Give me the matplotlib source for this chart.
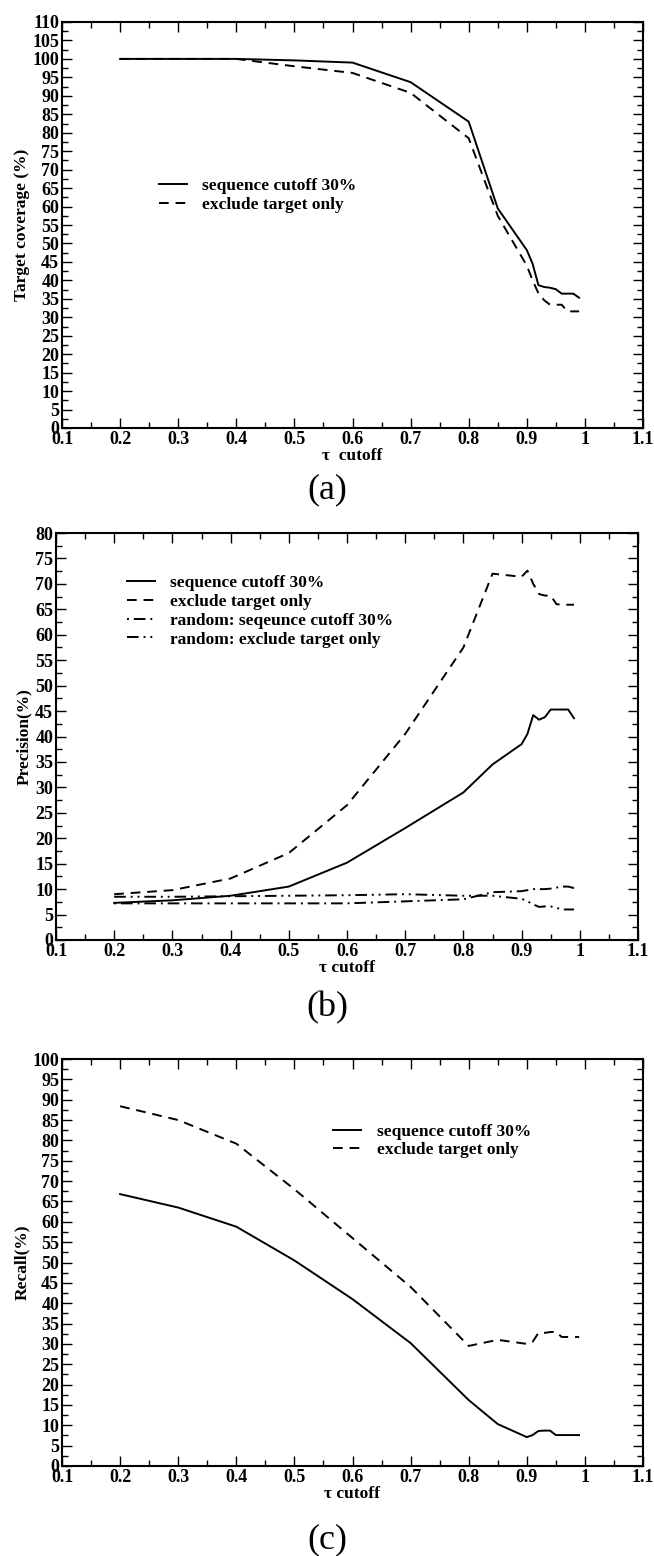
import matplotlib.pyplot as plt
from matplotlib.ticker import MultipleLocator, FuncFormatter

plt.rcParams['font.family'] = ['Liberation Serif', 'DejaVu Serif']

# tau cutoff values used in all three panels
tau = [0.2, 0.3, 0.4, 0.5, 0.6, 0.7, 0.8, 0.85, 0.9, 0.91, 0.92, 0.93, 0.94,
       0.95, 0.96, 0.97, 0.98, 0.99]

# (a) target coverage (%)
cov_seq30 = [100, 100, 100, 99.6, 99.0, 93.7, 83.0, 59.5, 48.2, 44.5, 38.7,
             38.2, 38.0, 37.6, 36.4, 36.4, 36.4, 35.3]
cov_excl = [100, 100, 100, 98.0, 96.2, 90.8, 78.5, 57.5, 44.0, 40.0, 36.5,
            34.6, 33.4, 33.4, 33.4, 31.6, 31.6, 31.6]

# (b) precision (%)
prec_seq30 = [7.3, 7.8, 8.7, 10.5, 15.2, 22.0, 29.0, 34.5, 38.5, 40.5, 44.2,
              43.3, 43.8, 45.3, 45.3, 45.3, 45.3, 43.6]
prec_excl = [9.0, 9.8, 12.1, 17.1, 26.5, 40.5, 57.5, 72.0, 71.4, 72.6, 70.0,
             68.0, 67.7, 67.7, 66.0, 65.9, 65.9, 65.9]
prec_rand_seq30 = [7.2, 7.2, 7.2, 7.2, 7.2, 7.6, 8.0, 9.4, 9.6, 9.8, 10.0,
                   10.0, 10.0, 10.1, 10.3, 10.5, 10.5, 10.2]
prec_rand_excl = [8.5, 8.5, 8.6, 8.7, 8.8, 9.0, 8.7, 8.7, 8.1, 7.6, 7.0,
                  6.5, 6.6, 6.6, 6.3, 6.0, 6.0, 6.0]

# (c) recall (%)
rec_seq30 = [66.8, 63.5, 58.8, 50.5, 41.0, 30.2, 16.2, 10.3, 7.1, 7.6, 8.6,
             8.7, 8.7, 7.6, 7.6, 7.6, 7.6, 7.6]
rec_excl = [88.4, 85.0, 79.2, 68.0, 56.0, 44.0, 29.5, 31.0, 30.0, 30.5, 32.7,
            32.7, 32.9, 33.0, 31.7, 31.7, 31.7, 31.7]

W, H = 654, 1556
fig = plt.figure(figsize=(W / 100, H / 100), dpi=100)

def axes_px(left, right, top, bottom):
    return fig.add_axes([left / W, 1 - bottom / H, (right - left) / W, (bottom - top) / H])

def style_axes(ax, ymax):
    ax.set_xlim(0.1, 1.1)
    ax.set_ylim(0, ymax)
    ax.xaxis.set_major_locator(MultipleLocator(0.1))
    ax.xaxis.set_minor_locator(MultipleLocator(0.05))
    ax.yaxis.set_major_locator(MultipleLocator(5))
    ax.yaxis.set_minor_locator(MultipleLocator(2.5))
    ax.xaxis.set_major_formatter(FuncFormatter(lambda v, p: '%g' % round(v, 2)))
    ax.yaxis.set_major_formatter(FuncFormatter(lambda v, p: '%d' % round(v)))
    ax.tick_params(which='both', direction='in', top=True, right=True, width=1.0)
    ax.tick_params(which='major', length=7, labelsize=13, pad=2)
    ax.tick_params(which='minor', length=4)
    for lab in ax.get_xticklabels() + ax.get_yticklabels():
        lab.set_fontweight('bold')
    for sp in ax.spines.values():
        sp.set_linewidth(1.5)

lw = 1.4
dash = (0, (5, 3.5))
dot_dash = (0, (1, 2.5, 6, 2.5))
dot_dash_dot = (0, (6, 2.5, 1, 2.5, 1, 2.5))
leg_prop = {'size': 12.5, 'weight': 'bold'}

# panel (a)
ax1 = axes_px(62, 643, 22, 428)
ax1.plot(tau, cov_seq30, color='black', lw=lw, label='sequence cutoff 30%')
ax1.plot(tau, cov_excl, color='black', lw=lw, linestyle=dash, label='exclude target only')
style_axes(ax1, 110)
ax1.set_ylabel('Target coverage (%)', fontsize=12.5, fontweight='bold', labelpad=2)
ax1.set_xlabel('\u03c4  cutoff', fontsize=12.5, fontweight='bold', labelpad=0)
ax1.legend(loc='upper left', bbox_to_anchor=(0.14, 0.655), frameon=False,
           prop=leg_prop, handlelength=1.6, handletextpad=0.9, labelspacing=0.15)
fig.text(0.5, 1 - 490 / H, '(a)', ha='center', va='center', fontsize=26)

# panel (b)
ax2 = axes_px(56, 638, 533, 940)
ax2.plot(tau, prec_seq30, color='black', lw=lw, label='sequence cutoff 30%')
ax2.plot(tau, prec_excl, color='black', lw=lw, linestyle=dash, label='exclude target only')
ax2.plot(tau, prec_rand_seq30, color='black', lw=lw, linestyle=dot_dash,
         label='random: seqeunce cutoff 30%')
ax2.plot(tau, prec_rand_excl, color='black', lw=lw, linestyle=dot_dash_dot,
         label='random: exclude target only')
style_axes(ax2, 80)
ax2.set_ylabel('Precision(%)', fontsize=12.5, fontweight='bold', labelpad=2)
ax2.set_xlabel('\u03c4 cutoff', fontsize=12.5, fontweight='bold', labelpad=0)
ax2.legend(loc='upper left', bbox_to_anchor=(0.095, 0.935), frameon=False,
           prop=leg_prop, handlelength=1.6, handletextpad=0.9, labelspacing=0.15)
fig.text(0.5, 1 - 1008 / H, '(b)', ha='center', va='center', fontsize=26)

# panel (c)
ax3 = axes_px(62, 643, 1059, 1466)
ax3.plot(tau, rec_seq30, color='black', lw=lw, label='sequence cutoff 30%')
ax3.plot(tau, rec_excl, color='black', lw=lw, linestyle=dash, label='exclude target only')
style_axes(ax3, 100)
ax3.set_ylabel('Recall(%)', fontsize=12.5, fontweight='bold', labelpad=2)
ax3.set_xlabel('\u03c4 cutoff', fontsize=12.5, fontweight='bold', labelpad=0)
ax3.legend(loc='upper left', bbox_to_anchor=(0.44, 0.88), frameon=False,
           prop=leg_prop, handlelength=1.6, handletextpad=0.9, labelspacing=0.15)
fig.text(0.5, 1 - 1540 / H, '(c)', ha='center', va='center', fontsize=26)

fig.savefig('out.png', dpi=100)
